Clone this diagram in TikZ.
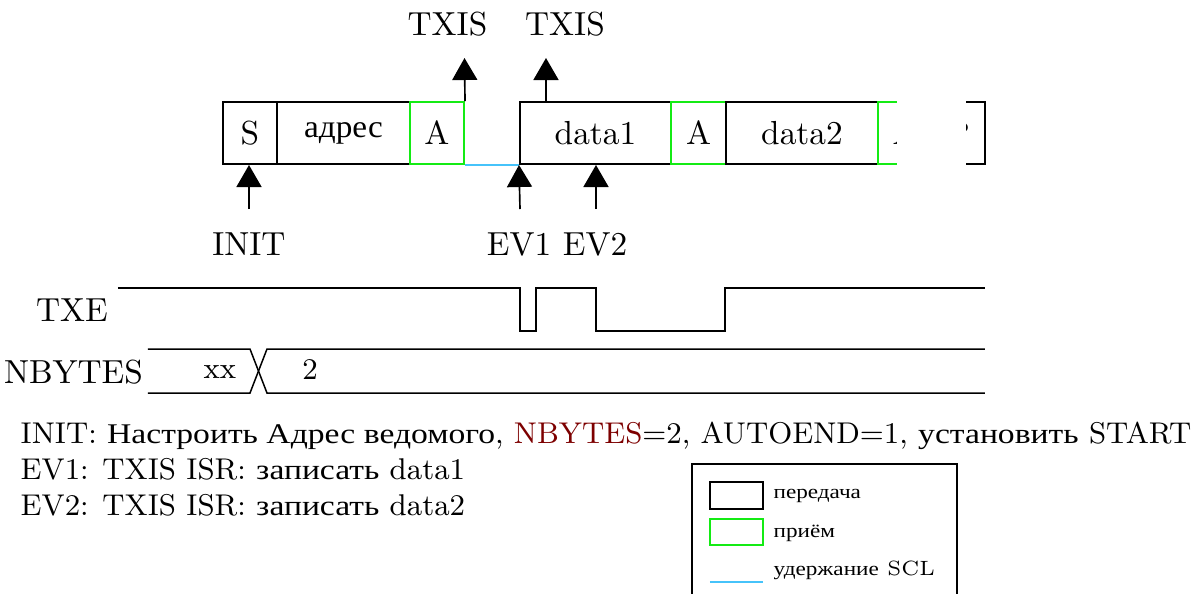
\documentclass[tikz,border=0pt]{standalone}
\usepackage{fontspec}
\newfontfamily\cyrf[Scale=0.95,FakeStretch=1.18]{Liberation Serif}
\newfontfamily\cyrbox[Scale=0.95,FakeStretch=1.05]{Liberation Serif}
\newcommand{\ru}[1]{{\cyrf #1}}
\usetikzlibrary{arrows.meta}
\definecolor{rxgreen}{RGB}{20,235,20}
\definecolor{holdcyan}{RGB}{70,195,250}
\definecolor{darkred}{RGB}{125,0,0}
\tikzset{
  tx/.style={draw=black, line width=0.6pt, minimum height={62*0.3pt}, inner sep=0pt, font=\fontsize{10}{12}\selectfont},
  rx/.style={tx, draw=rxgreen},
  arr/.style={-{Triangle[width=7.5pt,length=6.6pt]}, line width=0.5pt},
  wave/.style={line width=0.45pt},
  lbl/.style={anchor=base, inner sep=0pt, font=\fontsize{10}{12}\selectfont},
  txt/.style={anchor=base west, inner sep=0pt, font=\fontsize{9}{11}\selectfont},
  leg/.style={anchor=base west, inner sep=0pt, font=\fontsize{6.2}{8}\selectfont},
  hold/.style={draw=holdcyan, line width=0.7pt},
}
\begin{document}
\begin{tikzpicture}[x=0.3pt, y=-0.3pt]
\useasboundingbox (0,0) rectangle (1203,593);
\clip (0,0) rectangle (1203,593);
% frame boxes
\node[tx, minimum width={54*0.3pt}] (S) at (250,133) {S};
\node[tx, minimum width={133*0.3pt}] (adr) at (343.5,133) {{\cyrbox адрес}};
\node[rx, minimum width={54*0.3pt}] (A1) at (437,133) {A};
\node[tx, minimum width={151*0.3pt}] (D1) at (595.5,133) {data1};
\draw[hold] (A1.south east) -- (D1.south west);
\node[rx, minimum width={55*0.3pt}] (A2) at (698.5,133) {A};
\node[tx, minimum width={152*0.3pt}] (D2) at (802,133) {data2};
\node[rx, minimum width={54*0.3pt}] (A3) at (905,133) {A};
\node[tx, minimum width={53*0.3pt}] (P) at (958.5,133) {P};
\fill[white] (897,94) rectangle (966,172);
% TXIS arrows
\coordinate (t1) at (464.5,58);
\coordinate (t2) at (546,58);
\draw[arr] (A1.north east) -- (t1);
\draw[arr] (D1.north west -| t2) -- (t2);
\node[lbl] (txis1) at (447.5,35) {TXIS};
\node[lbl] (txis2) at (565,35) {TXIS};
% event arrows
\coordinate (i0) at (249,209);
\coordinate (e1) at (520,209);
\coordinate (e2) at (596,209);
\draw[arr] (i0) -- (i0 |- S.south);
\draw[arr] (e1) -- (D1.south west);
\draw[arr] (e2) -- (e2 |- D1.south);
\node[lbl] (init) at (249,255) {INIT};
\node[lbl] (ev1) at (519,255) {EV1};
\node[lbl] (ev2) at (595,255) {EV2};
% TXE waveform
\node[lbl] (txe) at (72,321) {TXE};
\draw[wave] (118,288) -- (520,288) -- (520,331) -- (536,331) -- (536,288) -- (596,288) -- (596,331) -- (725,331) -- (725,288) -- (985,288);
% NBYTES bus
\node[lbl] (nb) at (73.5,383) {NBYTES};
\draw[wave] (148,349) -- (250,349) -- (267,393) -- (985,393);
\draw[wave] (148,393) -- (250,393) -- (267,349) -- (985,349);
\node[anchor=center, inner sep=0pt, font=\fontsize{9}{11}\selectfont] (xx) at (220,372) {xx};
\node[anchor=base, inner sep=0pt, font=\fontsize{9}{11}\selectfont] (two) at (310,379) {2};
% description
\node[txt] (l1) at (20,443) {INIT: \ru{Настроить Адрес ведомого}, \textcolor{darkred}{NBYTES}=2, AUTOEND=1, \ru{установить} START};
\node[txt] (l2) at (20,479) {EV1: TXIS ISR: \ru{записать} data1};
\node[txt] (l3) at (20,515) {EV2: TXIS ISR: \ru{записать} data2};
% legend
\draw[line width=0.45pt] (692,464) rectangle (957,640);
\draw[line width=0.6pt] (710,482) rectangle (763,509);
\draw[line width=0.6pt, draw=rxgreen] (710,519) rectangle (763,545);
\draw[hold, line width=0.8pt] (710,582) -- (763,582);
\node[leg] (lg1) at (773,498) {\ru{передача}};
\node[leg] (lg2) at (773,537) {\ru{приём}};
\node[leg] (lg3) at (773,575) {\ru{удержание} SCL};
\end{tikzpicture}
\end{document}
